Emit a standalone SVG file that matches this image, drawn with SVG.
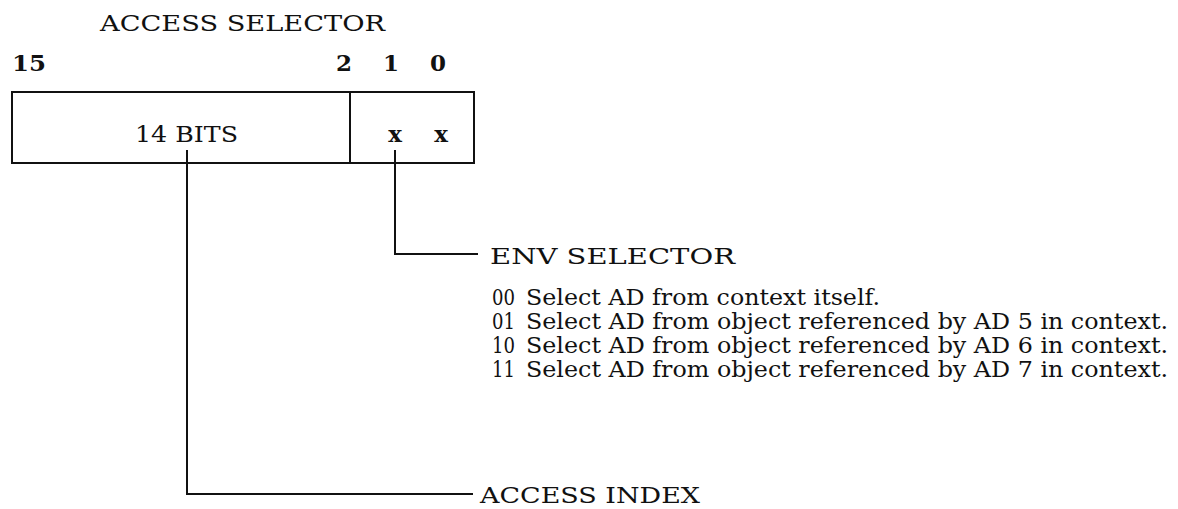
<svg xmlns="http://www.w3.org/2000/svg" width="1178" height="509" viewBox="0 0 1178 509">
<style>
text{font-family:"DejaVu Serif","Liberation Serif",serif;fill:#111;font-size:23px}
.b{font-weight:bold}
.ln{fill:none;stroke:#111;stroke-width:2}
</style>
<rect width="1178" height="509" fill="#fff"/>
<g id="title"><text x="100" y="31" textLength="285" lengthAdjust="spacingAndGlyphs">ACCESS SELECTOR</text></g>
<g id="bitnums">
<text class="b" x="12" y="71" textLength="34" lengthAdjust="spacingAndGlyphs">15</text>
<text class="b" x="336" y="71">2</text>
<text class="b" x="383" y="71">1</text>
<text class="b" x="430" y="71">0</text>
</g>
<g id="register">
<rect class="ln" x="12" y="92" width="462" height="71"/>
<line class="ln" x1="350" y1="92" x2="350" y2="163"/>
<text x="135" y="142" textLength="103" lengthAdjust="spacingAndGlyphs">14 BITS</text>
<text class="b" x="395" y="142" text-anchor="middle">x</text>
<text class="b" x="441" y="142" text-anchor="middle">x</text>
</g>
<g id="connectors">
<path class="ln" d="M187,150 V494 H473"/>
<path class="ln" d="M395,150 V254 H478"/>
</g>
<g id="env">
<text x="490" y="264" textLength="245" lengthAdjust="spacingAndGlyphs">ENV SELECTOR</text>
<text x="492" y="305" textLength="23" lengthAdjust="spacingAndGlyphs">00</text><text x="526" y="305" textLength="354" lengthAdjust="spacingAndGlyphs">Select AD from context itself.</text>
<text x="492" y="329" textLength="23" lengthAdjust="spacingAndGlyphs">01</text><text x="526" y="329" textLength="642" lengthAdjust="spacingAndGlyphs">Select AD from object referenced by AD 5 in context.</text>
<text x="492" y="353" textLength="23" lengthAdjust="spacingAndGlyphs">10</text><text x="526" y="353" textLength="642" lengthAdjust="spacingAndGlyphs">Select AD from object referenced by AD 6 in context.</text>
<text x="492" y="377" textLength="23" lengthAdjust="spacingAndGlyphs">11</text><text x="526" y="377" textLength="642" lengthAdjust="spacingAndGlyphs">Select AD from object referenced by AD 7 in context.</text>
</g>
<g id="index"><text x="480" y="503" textLength="220" lengthAdjust="spacingAndGlyphs">ACCESS INDEX</text></g>
</svg>
